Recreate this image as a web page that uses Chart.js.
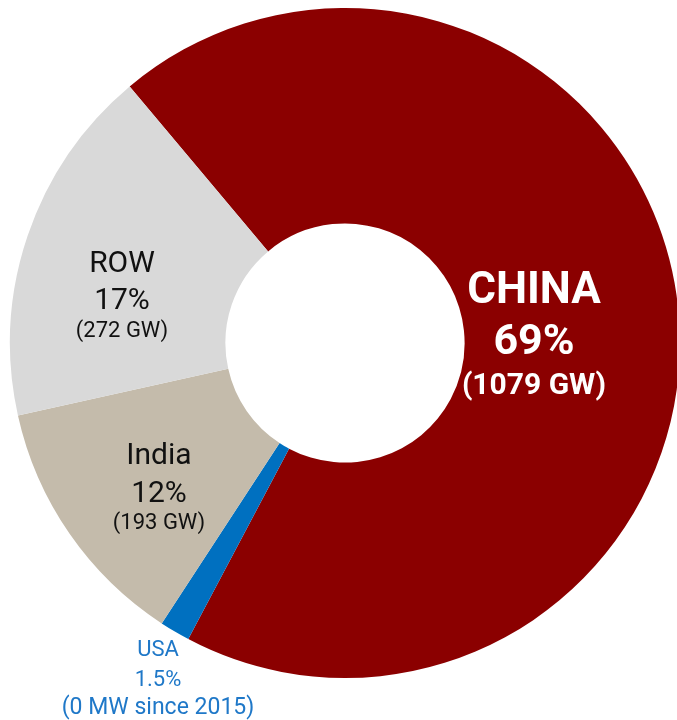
<!DOCTYPE html>
<html>
<head>
<meta charset="utf-8">
<script src="https://cdn.jsdelivr.net/npm/chart.js@4/dist/chart.umd.min.js"></script>
<style>
  html, body { margin: 0; padding: 0; background: #ffffff; overflow: hidden; }
  #wrap { position: relative; width: 690px; height: 720px; }
</style>
</head>
<body>
<div id="wrap"><canvas id="chart" width="690" height="720"></canvas></div>
<script>
// Installed capacity by region, GW
const regions = ['CHINA', 'USA', 'India', 'ROW'];
const capacityGW = [1079, 23, 193, 272];
const shareLabels = ['69%', '1.5%', '12%', '17%'];
const detailLabels = ['(1079 GW)', '(0 MW since 2015)', '(193 GW)', '(272 GW)'];
const sliceColors = ['#8b0000', '#0070c0', '#c4bbab', '#d9d9d9'];

// Text styling and anchor (x, baselines) for each region's label block
const labelStyles = [
  { color: '#ffffff', x: 534, lines: [
      { font: 'bold 44px Roboto', y: 303 },
      { font: 'bold 43px Roboto', y: 354 },
      { font: 'bold 30px Roboto', y: 394 } ] },
  { color: '#1f78c8', x: 158, lines: [
      { font: '22px Roboto', y: 656 },
      { font: '22px Roboto', y: 686 },
      { font: '23px Roboto', y: 714 } ] },
  { color: '#111111', x: 159, lines: [
      { font: '30px Roboto', y: 464 },
      { font: '30px Roboto', y: 502 },
      { font: '22px Roboto', y: 529 } ] },
  { color: '#111111', x: 122, lines: [
      { font: '30px Roboto', y: 272 },
      { font: '30px Roboto', y: 309 },
      { font: '22px Roboto', y: 337 } ] }
];

const sliceLabels = {
  id: 'sliceLabels',
  afterDatasetsDraw(chart) {
    const ctx = chart.ctx;
    ctx.save();
    ctx.textAlign = 'center';
    ctx.textBaseline = 'alphabetic';
    regions.forEach((name, i) => {
      const st = labelStyles[i];
      const texts = [name, shareLabels[i], detailLabels[i]];
      ctx.fillStyle = st.color;
      texts.forEach((t, j) => {
        ctx.font = st.lines[j].font;
        ctx.fillText(t, st.x, st.lines[j].y);
      });
    });
    ctx.restore();
  }
};

new Chart(document.getElementById('chart'), {
  type: 'doughnut',
  data: {
    labels: regions,
    datasets: [{
      data: capacityGW,
      backgroundColor: sliceColors,
      borderWidth: 0
    }]
  },
  options: {
    responsive: false,
    animation: false,
    rotation: -40,
    cutout: '35.7%',
    layout: { padding: { left: 10, top: 8, right: 10, bottom: 42 } },
    plugins: {
      legend: { display: false },
      tooltip: { enabled: false }
    }
  },
  plugins: [sliceLabels]
});
</script>
</body>
</html>
